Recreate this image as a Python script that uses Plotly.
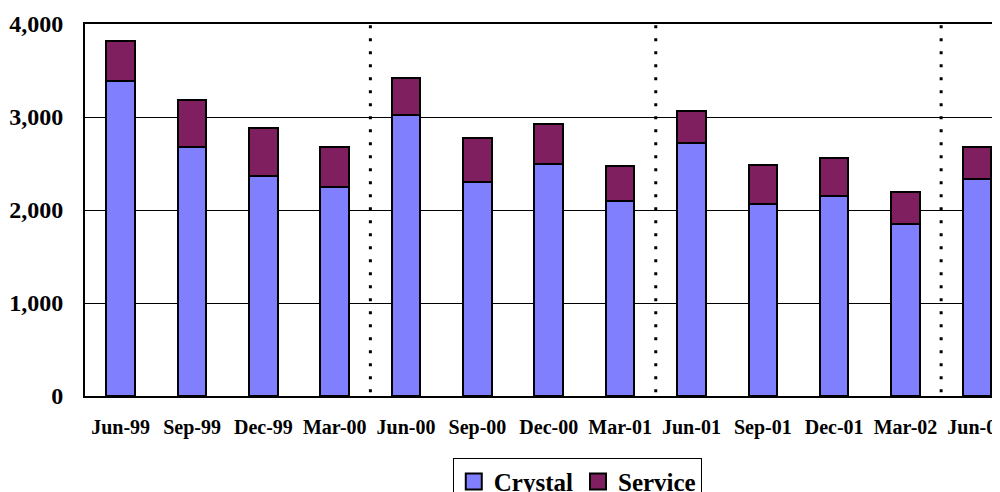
import plotly.graph_objects as go

categories = ["Jun-99", "Sep-99", "Dec-99", "Mar-00", "Jun-00", "Sep-00", "Dec-00",
              "Mar-01", "Jun-01", "Sep-01", "Dec-01", "Mar-02", "Jun-02"]
crystal = [3387, 2674, 2362, 2251, 3022, 2301, 2495, 2100, 2717, 2065, 2151, 1849, 2330]
service = [430, 509, 523, 430, 394, 473, 430, 373, 351, 419, 405, 348, 344]
year_breaks = [3.5, 7.5, 11.5]
y_ticks = [0, 1000, 2000, 3000, 4000]
series_names = ["Crystal", "Service"]
series_colors = ["#8080FF", "#7F1F5F"]

FONT = "Liberation Serif, Times New Roman, serif"

fig = go.Figure()
for name, vals, col in zip(series_names, [crystal, service], series_colors):
    fig.add_trace(go.Bar(x=list(range(len(categories))), y=vals, name=name,
                         marker=dict(color=col, line=dict(color="black", width=2)),
                         width=0.4, showlegend=False))
# legend entries with larger square swatches
for name, col in zip(series_names, series_colors):
    fig.add_trace(go.Scatter(x=[None], y=[None], mode="markers", name=name,
                             marker=dict(symbol="square", size=16, color=col,
                                         line=dict(color="black", width=2))))

for xb in year_breaks:
    fig.add_shape(type="line", xref="x", yref="paper", x0=xb, x1=xb, y0=0.01, y1=1,
                  line=dict(color="black", width=3, dash="3px,10px"), layer="above")

fig.update_layout(
    barmode="stack",
    width=992, height=484,
    margin=dict(l=77, r=0, t=16, b=96, autoexpand=False),
    plot_bgcolor="white", paper_bgcolor="white",
    showlegend=True,
    legend=dict(orientation="h", x=0.538, xanchor="center", y=-0.166, yanchor="top",
                bordercolor="black", borderwidth=1, itemsizing="trace",
                font=dict(family=FONT, size=25, color="black", weight="bold"),
                traceorder="normal"),
    xaxis=dict(range=[-0.5, 12.325], tickmode="array",
               tickvals=list(range(len(categories))), ticktext=categories,
               tickfont=dict(family=FONT, size=20, color="black", weight="bold"),
               showline=True, linecolor="black", linewidth=2, mirror=True,
               ticks="", showgrid=False, ticklabelstandoff=12, zeroline=False,
               automargin=False, ticklabeloverflow="allow"),
    yaxis=dict(range=[0, 4000], tickvals=y_ticks, tickformat=",d",
               tickfont=dict(family=FONT, size=24, color="black", weight="bold"),
               showline=True, linecolor="black", linewidth=2,
               showgrid=True, gridcolor="black", gridwidth=1,
               ticks="", ticklabelstandoff=15, zeroline=False, automargin=False),
)

fig.write_html("out.html")
